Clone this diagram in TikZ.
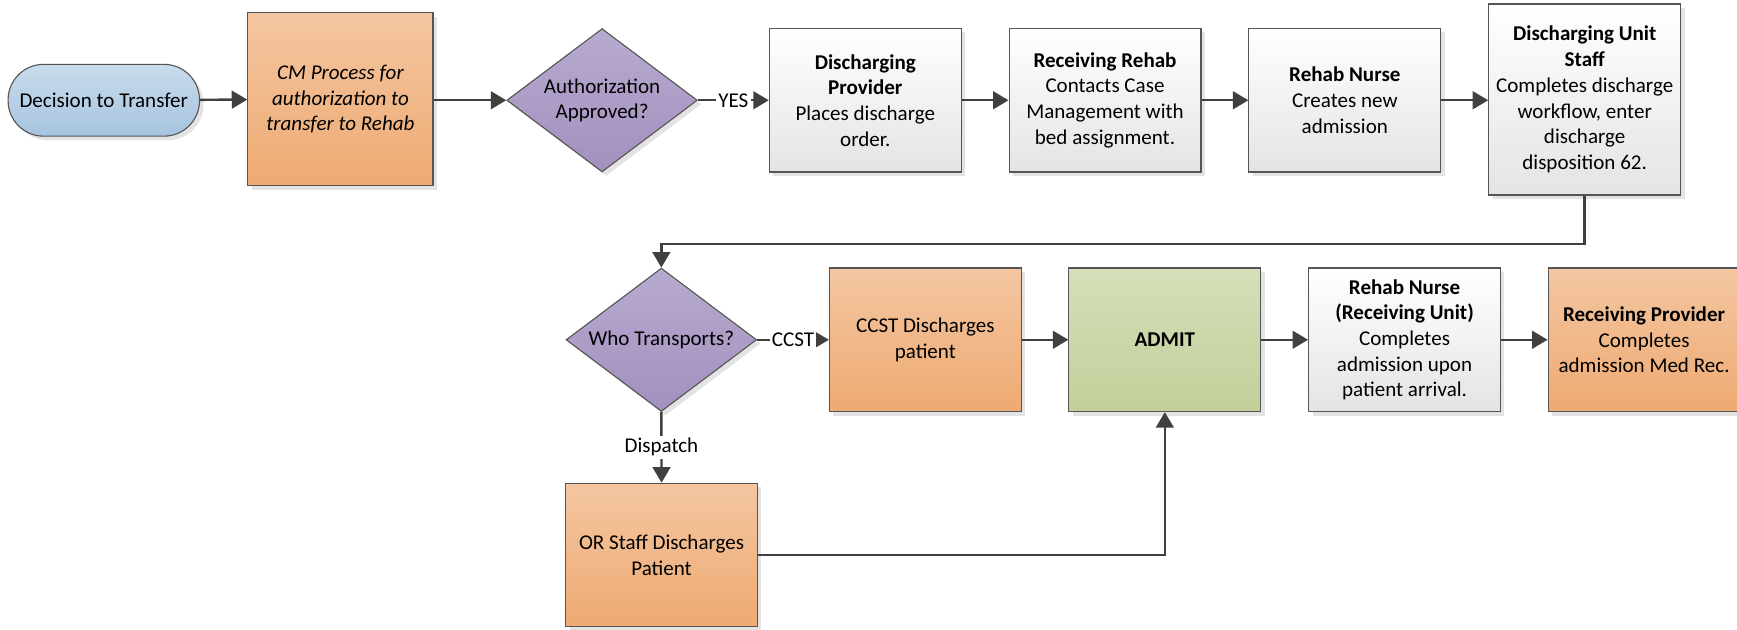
\documentclass[tikz,border=0pt]{standalone}
\usepackage{fontspec}
\setmainfont{Carlito}
\usetikzlibrary{shapes.geometric,arrows.meta,shadows}
\definecolor{orangeT}{HTML}{F4C6A1}
\definecolor{orangeB}{HTML}{EEAA72}
\definecolor{purpT}{HTML}{B8AACF}
\definecolor{purpB}{HTML}{A290BE}
\definecolor{blueT}{HTML}{C8DCEC}
\definecolor{blueB}{HTML}{A7C4DF}
\definecolor{greenT}{HTML}{D5DFB9}
\definecolor{greenB}{HTML}{C2CF9A}
\definecolor{grayT}{HTML}{FFFFFF}
\definecolor{grayB}{HTML}{E4E4E4}
\definecolor{edgecol}{HTML}{555555}
\definecolor{conncol}{HTML}{404040}
\begin{document}
\begin{tikzpicture}[x=0.5pt,y=-0.5pt,
  every node/.style={font=\fontsize{9.5}{11.6}\selectfont, align=center},
  base/.style={draw=edgecol, line width=0.5pt, inner sep=0pt,
    drop shadow={shadow xshift=1.8pt, shadow yshift=-1.8pt, fill=black, opacity=0.11}},
  procbox/.style={base, rectangle, minimum width=86.6pt, minimum height=64.8pt},
  orangebox/.style={procbox, top color=orangeT, bottom color=orangeB},
  graybox/.style={procbox, top color=grayT, bottom color=grayB},
  greenbox/.style={procbox, top color=greenT, bottom color=greenB},
  decision/.style={base, diamond, minimum width=86pt, minimum height=64.7pt, top color=purpT, bottom color=purpB},
  terminal/.style={base, rectangle, rounded corners=16pt, minimum width=86.4pt, minimum height=32.4pt, top color=blueT, bottom color=blueB},
  conn/.style={draw=conncol, line width=1.1pt, -{Triangle[length=7pt,width=8pt]}},
  lbl/.style={fill=white, inner sep=1pt}
]
\useasboundingbox (0,0) rectangle (1568,568);

% Row 1
\node[terminal] (start) at (93.7,90.5) {Decision to Transfer};
\node[orangebox, minimum width=83.6pt, minimum height=78pt] (cm) at (307.3,89.5)
  {\itshape CM Process for\\\itshape authorization to\\\itshape transfer to Rehab};
\node[decision] (auth) at (543.5,90.5) {};
\node (authtxt) at (auth) {Authorization\\Approved?};
\node[graybox] (dp) at (781.1,90.5)
  {\textbf{Discharging}\\\textbf{Provider}\\Places discharge\\order.};
\node[graybox] (rr) at (997.5,90.5)
  {\textbf{Receiving Rehab}\\Contacts Case\\Management with\\bed assignment.};
\node[graybox] (rn) at (1214,90.5)
  {\textbf{Rehab Nurse}\\Creates new\\admission};
\node[graybox, minimum height=86.2pt] (dus) at (1430.5,89.8)
  {\textbf{Discharging Unit}\\\textbf{Staff}\\Completes discharge\\workflow, enter\\discharge\\disposition 62.};

% Row 2
\node[decision] (who) at (597,306.7) {};
\node (whotxt) at (who) {Who Transports?};
\node[orangebox] (ccst) at (835.3,306.7) {CCST Discharges\\patient};
\node[greenbox] (admit) at (1051.5,306.7) {\textbf{ADMIT}};
\node[graybox] (rnru) at (1267.9,306.7)
  {\textbf{Rehab Nurse}\\\textbf{(Receiving Unit)}\\Completes\\admission upon\\patient arrival.};
\node[orangebox] (rp) at (1484.1,306.7)
  {\textbf{Receiving Provider}\\Completes\\admission Med Rec.};

% Row 3
\node[orangebox] (or) at (597.2,501) {OR Staff Discharges\\Patient};

% Connectors
\draw[conn] (start) -- (cm);
\draw[conn] (cm.east |- auth.west) -- (auth.west);
\draw[conn] (auth.east) -- node[lbl] {YES} (dp.west);
\draw[conn] (dp) -- (rr);
\draw[conn] (rr) -- (rn);
\draw[conn] (rn.east) -- (dus.west |- rn.east);
\draw[conn] (dus.south) -- ++(0,43.6) -| (who.north);
\draw[conn] (who.east) -- node[lbl] {CCST} (ccst.west);
\draw[conn] (who.south) -- node[lbl] {Dispatch} (or.north);
\draw[conn] (ccst) -- (admit);
\draw[conn] (admit) -- (rnru);
\draw[conn] (rnru) -- (rp);
\draw[conn] (or.east) -| (admit.south);
\end{tikzpicture}
\end{document}
